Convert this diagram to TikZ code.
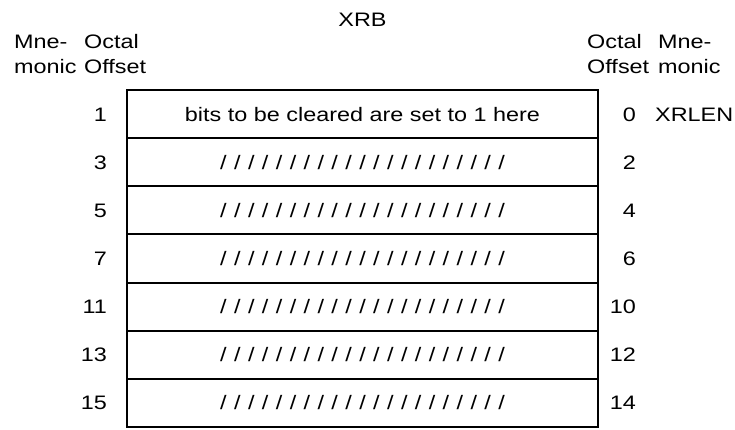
\documentclass[tikz,border=0pt]{standalone}
\usepackage{fontspec}
\setmainfont[FakeStretch=1.2]{Liberation Sans}
\usetikzlibrary{positioning}
\tikzset{
	wordbox/.style={draw, line width=2bp, minimum width=471bp, minimum height=48.14bp, inner sep=0pt},
	lbl/.style={inner sep=0pt, text height=14bp, text depth=0pt},
}
\newcommand{\slashfill}{/\foreach \k in {1,...,20}{\kern7.4bp/}}

\begin{document}
\begin{tikzpicture}[x=1bp,y=-1bp,font=\fontsize{19.5bp}{23bp}\selectfont]
	\useasboundingbox (0,0) rectangle (735,429);
	\node[lbl] (title) at (362.5,19) {XRB};
	\node[lbl,anchor=base west] (lmne) at (14,48) {Mne-};
	\node[lbl,anchor=base west] (loct) at (84,48) {Octal};
	\node[lbl,anchor=base west] (lmon) at (14,73) {monic};
	\node[lbl,anchor=base west] (loffs) at (84,73) {Offset};
	\node[lbl,anchor=base west] (roct) at (587,48) {Octal};
	\node[lbl,anchor=base west] (roffs) at (587,73) {Offset};
	\node[lbl,anchor=base west] (rmne) at (658,48) {Mne-};
	\node[lbl,anchor=base west] (rmon) at (658,73) {monic};

	\foreach \l/\r [count=\n] in {1/0,3/2,5/4,7/6,11/10,13/12,15/14}{
		\node[wordbox] (row\n) at (362.5,{90+(\n-0.5)*48.14}) {};
		\node[lbl,left=19bp of row\n] (loff\n) {\l};
		\node[lbl,anchor=east] (roff\n) at ([xshift=37bp]row\n.east) {\r};
		}

	\node[lbl] (clearbits) at (row1) {bits to be cleared are set to 1 here};
	\foreach \n in {2,...,7}{
		\node[lbl] (unused\n) at (row\n) {\slashfill};
		}
	\node[lbl,anchor=west] (xrlen) at ([xshift=56bp]row1.east) {XRLEN};
\end{tikzpicture}
\end{document}
